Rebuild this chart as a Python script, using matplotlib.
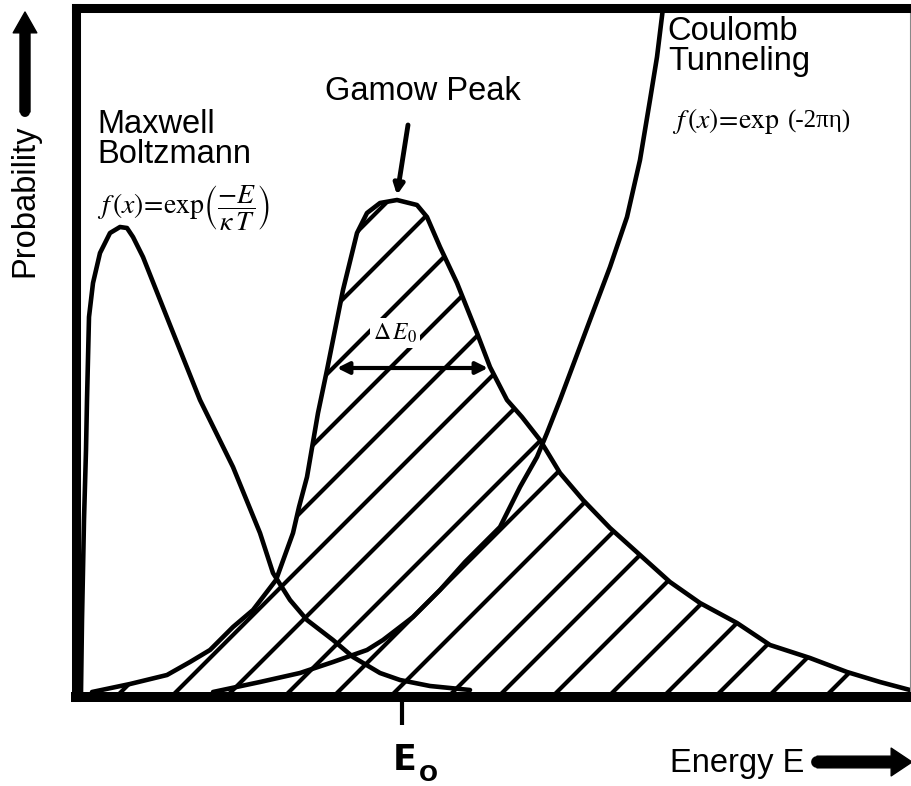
import numpy as np
import matplotlib.pyplot as plt
from matplotlib.patches import Polygon
from matplotlib.lines import Line2D

# schematic coordinates (energy in arbitrary units, probability height in arbitrary units)
mb_x = [81, 82, 84, 86, 87, 89, 93, 100, 110, 120, 127, 133, 143, 170, 200, 233, 260, 273,
        290, 307, 333, 353, 380, 400, 430, 470]
mb_y = [5, 77, 177, 247, 297, 380, 414, 444, 464, 470, 469, 460, 440, 372, 297, 230, 164, 124,
        97, 77, 57, 40, 24, 17, 11, 7]

gamow_x = [92, 130, 167, 190, 210, 233, 253, 276, 293, 299, 307, 318, 327, 343, 357, 367, 380,
           397, 417, 427, 440, 457, 477, 490, 507, 522, 540, 560, 583, 610, 640, 670, 700, 737,
           770, 810, 847, 880, 910]
gamow_y = [5, 13, 22, 35, 47, 70, 87, 117, 164, 190, 220, 284, 327, 407, 464, 484, 494, 497,
           492, 480, 450, 414, 364, 330, 297, 280, 257, 224, 197, 169, 142, 115, 94, 74, 52, 39,
           25, 15, 7]

coulomb_x = [213, 260, 300, 333, 367, 383, 400, 413, 440, 465, 487, 500, 520, 537, 547, 560,
             590, 610, 627, 640, 650, 657, 663, 667]
coulomb_y = [5, 15, 24, 35, 47, 57, 70, 80, 107, 135, 157, 170, 210, 240, 264, 297, 377, 430,
             480, 537, 597, 640, 689, 720]

# hatch lines (45 deg), intercepts on the energy axis
hatch_x0 = [-108, -55, 4, 61, 116, 171, 226, 284, 333, 390, 448, 498, 552, 608, 663, 715, 768, 825]

e0 = 402                     # Gamow peak energy
de_left, de_right = 337, 488  # width arrow ends
de_level = 329
peak_top = 497

plt.rcParams['mathtext.fontset'] = 'stix'
fig = plt.figure(figsize=(9.12, 7.86), dpi=100)
ax = fig.add_axes([76/912, 89/786, 834/912, 689/786])
ax.set_xlim(76, 910)
ax.set_ylim(0, 689)

LW = 3.3
kw = dict(color='black', lw=LW, solid_joinstyle='round', solid_capstyle='round')

# hatching clipped to the gamow peak
clip = Polygon(np.column_stack([gamow_x + [gamow_x[-1], gamow_x[0]],
                                gamow_y + [-5, -5]]),
               closed=True, transform=ax.transData, fc='none', ec='none')
ax.add_patch(clip)
for x0 in hatch_x0:
    ln, = ax.plot([x0 - 10, x0 + 800], [-10, 800], color='black', lw=3.0,
                  solid_capstyle='butt')
    ln.set_clip_path(clip)

ax.plot(mb_x, mb_y, **kw)
ax.plot(gamow_x, gamow_y, **kw)
ax.plot(coulomb_x, coulomb_y, **kw)

# frame
for s in ['left', 'top']:
    ax.spines[s].set_linewidth(6.5)
ax.spines['bottom'].set_linewidth(7.2)
ax.spines['right'].set_linewidth(0.8)
ax.spines['right'].set_color('#888888')
ax.set_yticks([])
ax.set_xticks([e0])
ax.set_xticklabels([])
ax.tick_params(axis='x', length=20, width=3, direction='out', color='black')

sans = 'Liberation Sans'
fs = 23.5
ax.text(325, 597, 'Gamow Peak', family=sans, fontsize=fs, ha='left', va='baseline')
ax.text(97, 564, 'Maxwell', family=sans, fontsize=fs, ha='left', va='baseline')
ax.text(97, 534, 'Boltzmann', family=sans, fontsize=fs, ha='left', va='baseline')
ax.text(667, 657, 'Coulomb', family=sans, fontsize=fs, ha='left', va='baseline')
ax.text(668, 627, 'Tunneling', family=sans, fontsize=fs, ha='left', va='baseline')
ax.text(670, -75, 'Energy E', family=sans, fontsize=fs, ha='left', va='baseline', clip_on=False)
ax.text(33, 420, 'Probability', family=sans, fontsize=fs, rotation=90, rotation_mode='anchor',
        ha='left', va='baseline', clip_on=False)

# formulas
ax.text(97, 489, r'$f\,(x)\!=\!\mathrm{exp}\left(\dfrac{-E}{\kappa\,T}\right)$',
        fontsize=20, ha='left', va='center')
ax.text(672, 569, r'$f\,(x)\!=\!\mathrm{exp}$', fontsize=20, ha='left', va='baseline')
ax.text(788, 569, '(-2πη)', family='Liberation Serif', fontsize=18, ha='left', va='baseline')
ax.text(373, 357, r'$\Delta\,E_0$', fontsize=17, ha='left', va='baseline', zorder=5,
        bbox=dict(fc='white', ec='none', pad=2))

# E0 label
ax.text(393, -73, 'E', family='DejaVu Sans', fontweight='bold', fontsize=25,
        ha='left', va='baseline', clip_on=False)
ax.text(419, -84, 'O', family='DejaVu Sans', fontweight='bold', fontsize=16,
        ha='left', va='baseline', clip_on=False)

# width arrow and peak pointer
ax.annotate('', xy=(de_left, de_level), xytext=(de_right, de_level),
            arrowprops=dict(arrowstyle='<|-|>,head_length=0.7,head_width=0.35', lw=3,
                            color='black', shrinkA=0, shrinkB=0), zorder=6)
ax.annotate('', xy=(e0 - 5, peak_top + 5), xytext=(408, 572),
            arrowprops=dict(arrowstyle='-|>,head_length=0.6,head_width=0.3', lw=3.5,
                            color='black', shrinkA=0, shrinkB=0))

# axis arrows outside the frame
ax.annotate('', xy=(25, 685), xytext=(25, 585), annotation_clip=False,
            arrowprops=dict(arrowstyle='simple,head_length=0.75,head_width=0.85,tail_width=0.36',
                            mutation_scale=20, fc='black', ec='black', shrinkA=0, shrinkB=0))
ax.add_line(Line2D([25, 25], [585, 600], color='black', lw=7.2, solid_capstyle='round',
                   clip_on=False))
ax.annotate('', xy=(912, -65), xytext=(817, -65), annotation_clip=False,
            arrowprops=dict(arrowstyle='simple,head_length=0.75,head_width=1.0,tail_width=0.42',
                            mutation_scale=20, fc='black', ec='black', shrinkA=0, shrinkB=0))
ax.add_line(Line2D([817, 830], [-65, -65], color='black', lw=8.5, solid_capstyle='round',
                   clip_on=False))

fig.savefig('out.png', dpi=100)
